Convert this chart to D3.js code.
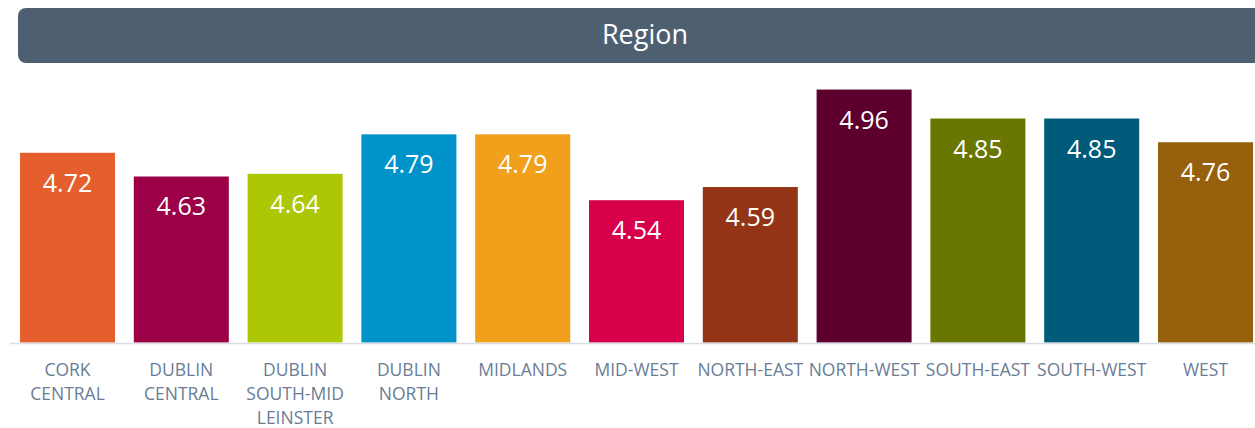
<html>
<head>
<script src="https://d3js.org/d3.v7.min.js"></script>
<style>
  body { margin: 0; background: #fff; }
  svg { display: block; font-family: "Open Sans", sans-serif; }
</style>
</head>
<body>
<svg id="chart" width="1255" height="428"></svg>
<script>
// data
var regions = ["CORK CENTRAL", "DUBLIN CENTRAL", "DUBLIN SOUTH-MID LEINSTER", "DUBLIN NORTH",
               "MIDLANDS", "MID-WEST", "NORTH-EAST", "NORTH-WEST", "SOUTH-EAST", "SOUTH-WEST", "WEST"];
var scores = [4.72, 4.63, 4.64, 4.79, 4.79, 4.54, 4.59, 4.96, 4.85, 4.85, 4.76];
var barColors = ["#E45F2B", "#9C0047", "#AEC704", "#0093C9", "#F0A01A", "#D8004A",
                 "#933416", "#5E002E", "#697602", "#005A7A", "#97600C"];
// how the category labels break onto lines
var labelLines = [["CORK", "CENTRAL"], ["DUBLIN", "CENTRAL"], ["DUBLIN", "SOUTH-MID", "LEINSTER"],
                  ["DUBLIN", "NORTH"], ["MIDLANDS"], ["MID-WEST"], ["NORTH-EAST"], ["NORTH-WEST"],
                  ["SOUTH-EAST"], ["SOUTH-WEST"], ["WEST"]];
var title = "Region";

var svg = d3.select("#chart");

// header bar
svg.append("rect")
    .attr("x", 18).attr("y", 8)
    .attr("width", 1254).attr("height", 55)
    .attr("rx", 8).attr("ry", 8)
    .attr("fill", "#4E5F72");
svg.append("text")
    .attr("x", 645).attr("y", 44)
    .attr("text-anchor", "middle")
    .attr("font-size", 27)
    .attr("fill", "#fff")
    .text(title);

var x = d3.scaleBand()
    .domain(regions)
    .range([10.6, 1262.4])
    .paddingInner(0.165)
    .paddingOuter(0.0825);

var y = d3.scaleLinear()
    .domain([4, 5])
    .range([342.5, 79]);

var g = svg.append("g");

g.selectAll(".bar")
    .data(scores)
    .enter()
    .append("rect")
    .attr("class", "bar")
    .attr("x", function(d, i) { return x(regions[i]); })
    .attr("y", function(d) { return y(d); })
    .attr("width", x.bandwidth())
    .attr("height", function(d) { return y(4) - y(d); })
    .attr("fill", function(d, i) { return barColors[i]; });

// axis baseline
g.append("line")
    .attr("x1", 10).attr("x2", 1255)
    .attr("y1", y(4) + 1).attr("y2", y(4) + 1)
    .attr("stroke", "#d9dde3")
    .attr("stroke-width", 1.5);

g.selectAll(".val")
    .data(scores)
    .enter()
    .append("text")
    .attr("class", "val")
    .attr("x", function(d, i) { return x(regions[i]) + x.bandwidth() / 2; })
    .attr("y", function(d) { return y(d) + 39; })
    .attr("text-anchor", "middle")
    .attr("font-size", 25)
    .attr("fill", "#fff")
    .text(function(d) { return d.toFixed(2); });

var lbl = g.selectAll(".lbl")
    .data(regions)
    .enter()
    .append("text")
    .attr("class", "lbl")
    .attr("text-anchor", "middle")
    .attr("font-size", 17.5)
    .attr("fill", "#6A7D95");

lbl.each(function(d, i) {
    var t = d3.select(this);
    var cx = x(d) + x.bandwidth() / 2;
    labelLines[i].forEach(function(line, k) {
        t.append("tspan")
            .attr("x", cx)
            .attr("y", 376 + k * 24)
            .text(line);
    });
});
</script>
</body>
</html>
